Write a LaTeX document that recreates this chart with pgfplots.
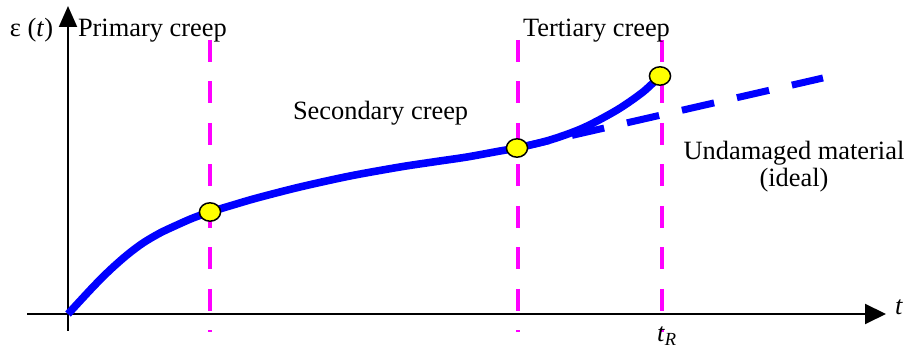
\documentclass[border=0pt]{standalone}
\usepackage{fontspec}
\setmainfont{Liberation Serif}
\usepackage{pgfplots}
\pgfplotsset{compat=1.18}
\usetikzlibrary{arrows.meta}
\definecolor{creepblue}{RGB}{0,0,255}
\definecolor{stagemag}{RGB}{255,0,255}
\definecolor{pointyellow}{RGB}{255,255,0}
\tikzset{lbl/.style={font=\fontsize{13.2}{15}\selectfont, inner sep=0pt, outer sep=0pt}}

\begin{document}
\begin{tikzpicture}
\begin{axis}[
  width=453.5pt, height=173.5pt,
  scale only axis,
  hide axis,
  clip=false,
  xmin=-68, xmax=839,
  ymin=-33, ymax=314,
]
% bounding box = whole reference frame
\path (rel axis cs:0,0) rectangle (rel axis cs:1,1);

% stage boundaries
\addplot[stagemag, line width=2.1pt, dash pattern=on 11pt off 9.75pt] coordinates {(142,274) (142,-18)};
\addplot[stagemag, line width=2.1pt, dash pattern=on 11pt off 9.75pt] coordinates {(450,274) (450,-18)};
\addplot[stagemag, line width=2.1pt, dash pattern=on 11pt off 9.75pt] coordinates {(594,274) (594,-18)};

% axes
\draw[line width=1pt, -{Triangle[length=10.5pt,width=9pt]}] (axis cs:0,-17) -- (axis cs:0,308);
\draw[line width=1pt, -{Triangle[length=10.5pt,width=10pt]}] (axis cs:-41,0) -- (axis cs:818,0);

% undamaged (ideal) material
\addplot[creepblue, line width=3.5pt, dash pattern=on 16.5pt off 11.7pt] coordinates {(449,166) (755,236)};

% creep curve
\addplot[creepblue, line width=3.8pt, smooth] coordinates {
  (0,0) (25,27) (42,44) (59,59) (75,71) (92,81) (109,89) (125,96)
  (142,102) (165,109) (189,116) (232,127) (282,138) (332,147)
  (365,152) (399,157) (432,163) (449,166) (482,174) (515,186)
  (549,204) (575,222) (592,238)
};

% stage transitions
\addplot[only marks, mark=*, mark size=4.6pt,
  mark options={fill=pointyellow, draw=black, line width=0.75pt, xscale=1.15}]
  coordinates {(142,102) (449,166) (592,238)};

% labels
\node[lbl, anchor=base west] at (axis cs:-58,277) {ε (\textit{t})};
\node[lbl, anchor=base west] at (axis cs:10,277) {Primary creep};
\node[lbl, anchor=base west] at (axis cs:455,277) {Tertiary creep};
\node[lbl, anchor=base west] at (axis cs:225,194) {Secondary creep};
\node[lbl, anchor=base] at (axis cs:726,154) {Undamaged material};
\node[lbl, anchor=base] at (axis cs:726,127) {(ideal)};
\node[lbl, anchor=base west] at (axis cs:827,-1) {\textit{t}};
\node[lbl, anchor=base west] at (axis cs:589,-28) {\textit{t}\textsubscript{\textit{R}}};
\end{axis}
\end{tikzpicture}
\end{document}
